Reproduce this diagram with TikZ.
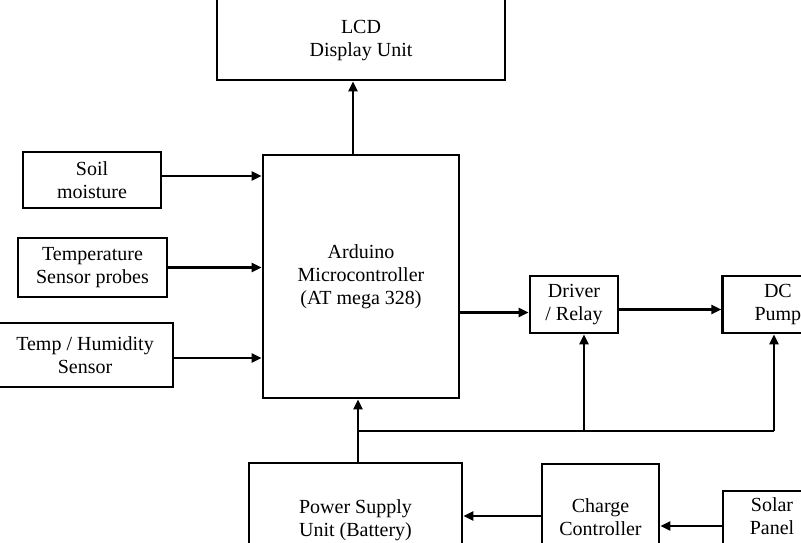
\documentclass[tikz,border=0pt]{standalone}
\usepackage{fontspec}
\setmainfont{Liberation Serif}
\usetikzlibrary{arrows.meta,positioning}

\tikzset{
  block/.style={draw, line width=2.9pt, inner sep=0pt, align=center, font=\fontsize{20}{23}\selectfont},
  txt/.style={align=center, font=\fontsize{20}{23}\selectfont},
  arr/.style={line width=2.3pt, -{Triangle[length=10pt,width=9pt]}},
  wire/.style={line width=1.5pt}
}

\begin{document}
\begin{tikzpicture}[x=1pt,y=-1pt]
            \useasboundingbox (0,0) rectangle (801,542);
            \clip (0,0) rectangle (801,542);

            \node[block, minimum width=288pt, minimum height=120pt] (lcd) at (361,20) {};
            \node[txt] (lcdtxt) at (361,41) {LCD\\Display Unit};

            \node[block, minimum width=196pt, minimum height=243pt] (ard) at (361,276.5) {Arduino\\Microcontroller\\(AT mega 328)};

            \node[block, minimum width=138pt, minimum height=56pt] (soil) at (92,180) {Soil\\moisture};
            \node[block, minimum width=149pt, minimum height=59pt] (probe) at (92.5,267.5) {Temperature\\Sensor probes};
            \node[block, minimum width=176pt, minimum height=64pt] (hum) at (85,355) {Temp / Humidity\\Sensor};

            \node[block, minimum width=88pt, minimum height=57pt] (drv) at (574,304.5) {Driver\\/ Relay};
            \node[block, minimum width=110pt, minimum height=57pt, right=102pt of drv] (pump) {DC\\Pump};

            \node[block, minimum width=213pt, minimum height=114pt] (psu) at (355.5,520) {Power Supply\\Unit (Battery)};
            \node[block, minimum width=117pt, minimum height=106pt] (chg) at (600.5,517) {Charge\\Controller};
            \node[block, minimum width=98pt, minimum height=80pt] (sol) at (772,531) {};
            \node[txt] (soltxt) at (772,516) {Solar\\Panel};

            \coordinate (busD) at (584,431);
            \coordinate (busP) at (774,431);

            \draw[arr] ([yshift=4pt]soil.east) -- ([yshift=4pt]soil.east -| ard.west);
            \draw[arr] (probe.east) -- (probe.east -| ard.west);
            \draw[arr] ([yshift=-3pt]hum.east) -- ([yshift=-3pt]hum.east -| ard.west);
            \draw[arr] ([xshift=-8pt]ard.north) -- ([xshift=-8pt]ard.north |- lcd.south);
            \draw[arr] ([yshift=-8pt]drv.west -| ard.east) -- ([yshift=-8pt]drv.west);
            \draw[arr] ([yshift=-5pt]drv.east) -- ([yshift=-5pt]drv.east -| pump.west);
            \draw[arr] ([xshift=2.5pt]psu.north) -- ([xshift=2.5pt]psu.north |- ard.south);
            \draw[wire] ([xshift=2.5pt]psu.north |- busD) -- (busP);
            \draw[arr] (busD) -- (busD |- drv.south);
            \draw[arr] (busP) -- (busP |- pump.south);
            \draw[arr] ([yshift=1pt]chg.west) -- ([yshift=1pt]chg.west -| psu.east);
            \draw[arr] ([yshift=5pt]sol.west) -- ([yshift=5pt]sol.west -| chg.east);
\end{tikzpicture}
\end{document}
